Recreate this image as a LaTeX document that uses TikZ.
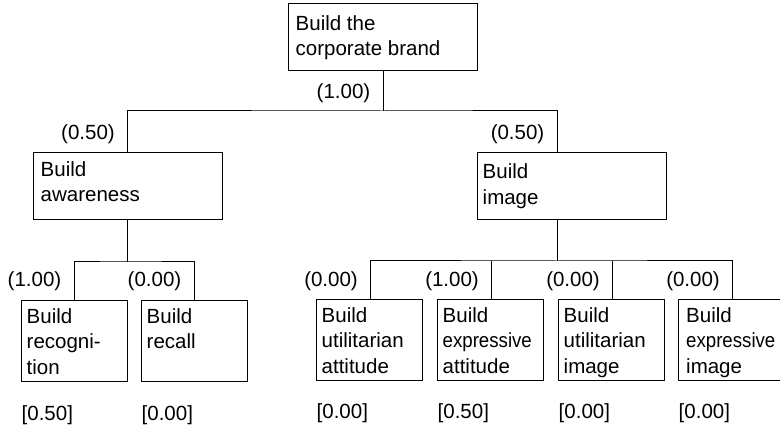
\documentclass[tikz,border=0pt]{standalone}
\usepackage{graphicx}
\usepackage{fontspec}
\setmainfont{Liberation Sans}
\newcommand{\tight}[1]{\scalebox{0.91}[1]{#1}}
\begin{document}
\begin{tikzpicture}[x=1pt,y=-1pt,
  box/.style={draw, line width=1pt, inner sep=0pt, outer sep=0pt, anchor=north west},
  leaf/.style={box, minimum width=106pt, minimum height=81pt},
  mid/.style={box, minimum width=189pt, minimum height=67pt},
  txt/.style={anchor=north west, inner sep=0pt, align=left, font=\fontsize{20.5}{25.5}\selectfont},
  wt/.style={anchor=east, inner sep=0pt, font=\fontsize{20.5}{25}\selectfont},
  score/.style={anchor=west, inner sep=0pt, font=\fontsize{20.5}{25}\selectfont},
  wire/.style={line width=1pt}]
\clip (0,0) rectangle (780,427);

% goal
\node[mid] (goal) at (288,4) {};
\node[txt] (goal-t) at ([shift={(7.5,11)}]goal.north west) {Build the\\corporate brand};

% sub-goals
\node[mid] (aware) at (33,153) {};
\node[txt] (aware-t) at ([shift={(7.5,8)}]aware.north west) {Build\\awareness};
\node[mid] (image) at (477,153) {};
\node[txt] (image-t) at ([shift={(5.5,10.5)}]image.north west) {Build\\image};

% leaves
\node[leaf] (recog)  at (21,301)  {};
\node[leaf] (recall) at (141,301) {};
\node[leaf] (ua) at (316,300) {};
\node[leaf] (ea) at (437,300) {};
\node[leaf] (ui) at (558,300) {};
\node[leaf] (ei) at (678,300) {};

\node[txt] (recog-t)  at ([shift={(5.5,7)}]recog.north west)  {Build\\recogni-\\tion};
\node[txt] (recall-t) at ([shift={(5.5,7)}]recall.north west) {Build\\recall};
\node[txt] (ua-t) at ([shift={(5.5,7)}]ua.north west) {Build\\utilitarian\\attitude};
\node[txt] (ea-t) at ([shift={(5.5,7)}]ea.north west) {Build\\\tight{expressive}\\attitude};
\node[txt] (ui-t) at ([shift={(5.5,7)}]ui.north west) {Build\\utilitarian\\image};
\node[txt] (ei-t) at ([shift={(8,7)}]ei.north west) {Build\\\tight{expressive}\\image};

% tree connectors
\coordinate (goal-out) at ([shift={(95,0)}]goal.south west);
\coordinate (image-in) at ([shift={(80,0)}]image.north west);
\draw[wire] (goal-out) -- ++(0,40) coordinate (j1);
\draw[wire] (aware.north) |- (j1) -| (image-in);

\draw[wire] (aware.south) -- ++(0,42) coordinate (j2);
\draw[wire] (recog.north) |- (j2) -| (recall.north);

\draw[wire] (image-in |- image.south) -- ++(0,41) coordinate (j3);
\draw[wire] ([xshift=1.5pt]ua.north) |- (j3) -| ([xshift=1.5pt]ei.north);
\draw[wire] ([xshift=1.5pt]ea.north) -- ([xshift=1.5pt]ea.north |- j3);
\draw[wire] ([xshift=1.5pt]ui.north) -- ([xshift=1.5pt]ui.north |- j3);

% weights
\node[wt] (w-goal)  at ([shift={(-12.5,-18)}]j1) {(1.00)};
\node[wt] (w-aware) at ([shift={(-12.5,-19)}]aware.north) {(0.50)};
\node[wt] (w-image) at ([shift={(-12.5,-19)}]image-in) {(0.50)};
\node[wt] (w-recog)  at ([shift={(-12.5,-20)}]recog.north) {(1.00)};
\node[wt] (w-recall) at ([shift={(-12.5,-20)}]recall.north) {(0.00)};
\node[wt] (w-ua) at ([shift={(-11,-19)}]ua.north) {(0.00)};
\node[wt] (w-ea) at ([shift={(-11,-19)}]ea.north) {(1.00)};
\node[wt] (w-ui) at ([shift={(-11,-19)}]ui.north) {(0.00)};
\node[wt] (w-ei) at ([shift={(-11,-19)}]ei.north) {(0.00)};

% scores
\node[score] (s-recog)  at ([shift={(0.5,33)}]recog.south west)  {[0.50]};
\node[score] (s-recall) at ([shift={(0.5,33)}]recall.south west) {[0.00]};
\node[score] (s-ua) at ([shift={(0.5,32)}]ua.south west) {[0.00]};
\node[score] (s-ea) at ([shift={(0.5,32)}]ea.south west) {[0.50]};
\node[score] (s-ui) at ([shift={(0.5,32)}]ui.south west) {[0.00]};
\node[score] (s-ei) at ([shift={(0.5,32)}]ei.south west) {[0.00]};
\end{tikzpicture}
\end{document}
